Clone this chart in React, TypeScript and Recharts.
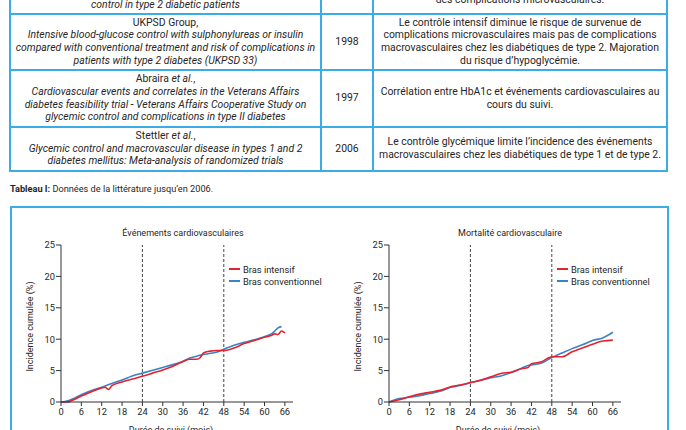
import React from 'react';
import { LineChart, Line, XAxis, YAxis, ReferenceLine, Legend } from 'recharts';

// ---------- data ----------
const monthsA = [0, 2, 3, 6, 9, 12, 13, 14, 15, 18, 21, 24, 27, 30, 33, 36, 38, 40, 41, 42, 44, 46, 48, 51, 54, 57, 60, 62, 63, 64, 65, 66];
const intensifA = [0, 0, 0.2, 0.95, 1.65, 2.25, 2.35, 2.0, 2.6, 3.2, 3.65, 4.1, 4.6, 5.1, 5.7, 6.45, 6.8, 6.8, 7.05, 7.8, 8.1, 8.2, 8.2, 8.6, 9.3, 9.8, 10.3, 10.6, 10.85, 10.75, 11.3, 11.0];
const conventionnelA = [0, 0.2, 0.4, 1.15, 1.85, 2.35, 2.55, 2.75, 2.95, 3.5, 4.15, 4.6, 5.05, 5.5, 5.95, 6.5, 7.0, 7.3, 7.45, 7.55, 7.75, 7.95, 8.4, 9.05, 9.5, 9.9, 10.4, 10.85, 11.3, 11.8, 12.0, null];

const monthsB = [0, 3, 6, 9, 12, 15, 18, 21, 24, 27, 30, 33, 36, 39, 41, 42, 45, 48, 51, 54, 57, 60, 63, 66];
const intensifB = [0, 0.35, 0.85, 1.25, 1.55, 1.85, 2.4, 2.7, 3.1, 3.45, 4.0, 4.55, 4.75, 5.3, 5.5, 6.1, 6.4, 7.2, 7.2, 8.0, 8.6, 9.2, 9.7, 9.85];
const conventionnelB = [0, 0.55, 0.75, 1.0, 1.35, 1.7, 2.3, 2.65, 3.05, 3.45, 3.85, 4.15, 4.7, 5.35, 5.8, 5.9, 6.2, 7.1, 7.8, 8.5, 9.1, 9.8, 10.2, 11.1];

const xTicks = [0, 6, 12, 18, 24, 30, 36, 42, 48, 54, 60, 66];
const yTicks = [0, 5, 10, 15, 20, 25];
const refMonths = [24, 48];
const seriesNames = ['Bras intensif', 'Bras conventionnel'];
const chartTitles = ['Événements cardiovasculaires', 'Mortalité cardiovasculaire'];
const xAxisTitle = 'Durée de suivi (mois)';
const yAxisTitle = 'Incidence cumulée (%)';

const tableAuthors = ['UKPSD Group,', 'Abraira', 'Stettler'];
const tableAuthorsEtAl = [false, true, true];
const tableTitles = [
  ['Intensive blood-glucose control with sulphonylureas or insulin', 'compared with conventional treatment and risk of complications in', 'patients with type 2 diabetes (UKPSD 33)'],
  ['Cardiovascular events and correlates in the Veterans Affairs', 'diabetes feasibility trial - Veterans Affairs Cooperative Study on', 'glycemic control and complications in type II diabetes'],
  ['Glycemic control and macrovascular disease in types 1 and 2', 'diabetes mellitus: Meta-analysis of randomized trials'],
];
const tableYears = ['1998', '1997', '2006'];
const tableConclusions = [
  ['Le contrôle intensif diminue le risque de survenue de', 'complications microvasculaires mais pas de complications', 'macrovasculaires chez les diabétiques de type 2. Majoration', 'du risque d’hypoglycémie.'],
  ['Corrélation entre HbA1c et événements cardiovasculaires au', 'cours du suivi.'],
  ['Le contrôle glycémique limite l’incidence des événements', 'macrovasculaires chez les diabétiques de type 1 et de type 2.'],
];
const prevRowTitleEnd = 'control in type 2 diabetic patients';
const prevRowConclusionEnd = 'des complications microvasculaires.';
const captionBold = 'Tableau I:';
const captionText = ' Données de la littérature jusqu’en 2006.';

// ---------- styles ----------
const FONT = 'Roboto, "DejaVu Sans", sans-serif';
const BLUE_BORDER = '#3aace6';
const TEXT = '#262626';
const RED = '#e4232f';
const BLUE = '#3a82c6';
const TABLE_FS = 10.4;
const CHART_FS = 9;

const colX = [10, 321, 373, 667];
const rowY = [14, 70, 127, 171];
const LINE_H = 12.7;

function build(months: number[], a: (number | null)[], b: (number | null)[]) {
  return months.map((m, i) => ({ m, intensif: a[i], conventionnel: b[i] }));
}

const LegendBox = (props: any) => {
  const items = (props.payload || []) as any[];
  return (
    <div style={{ fontFamily: FONT, fontSize: 9.3, color: TEXT }}>
      {items.map((it) => (
        <div key={it.value} style={{ display: 'flex', alignItems: 'center', height: 12, whiteSpace: 'nowrap' }}>
          <span style={{ display: 'inline-block', width: 11, height: 2, background: it.color, marginRight: 3 }} />
          <span>{it.value}</span>
        </div>
      ))}
    </div>
  );
};

function Chart({ left, data, title, titleX, xTitleX, yTitleX, legendX }: any) {
  const W = 330;
  const H = 240;
  const top = 220;
  return (
    <>
      <div style={{ position: 'absolute', left, top, width: W, height: H }}>
        <LineChart width={W} height={H} data={data} margin={{ top: 25, right: 37, left: 0, bottom: 38 }}>
          <XAxis
            dataKey="m"
            type="number"
            domain={[0, 68.4]}
            ticks={xTicks}
            interval={0}
            tickSize={4}
            tickMargin={2}
            height={20}
            axisLine={{ stroke: '#333', strokeWidth: 1 }}
            tickLine={{ stroke: '#333' }}
            tick={{ fontSize: 9.3, fill: TEXT, fontFamily: FONT }}
          />
          <YAxis
            type="number"
            domain={[0, 25]}
            ticks={yTicks}
            interval={0}
            width={61}
            tickSize={5}
            tickMargin={1}
            axisLine={{ stroke: '#333', strokeWidth: 1 }}
            tickLine={{ stroke: '#333' }}
            tick={{ fontSize: 9.3, fill: TEXT, fontFamily: FONT }}
          />
          {refMonths.map((r) => (
            <ReferenceLine key={r} x={r} stroke="#444" strokeDasharray="3 2" strokeWidth={1} />
          ))}
          <Line type="monotone" dataKey="conventionnel" name={seriesNames[1]} stroke={BLUE} strokeWidth={1.6} dot={false} isAnimationActive={false} />
          <Line type="monotone" dataKey="intensif" name={seriesNames[0]} stroke={RED} strokeWidth={1.6} dot={false} isAnimationActive={false} />
          <Legend
            layout="vertical"
            align="center"
            verticalAlign="middle"
            content={(p: any) => {
              const sorted = [...(p.payload || [])].sort((x: any, y: any) => seriesNames.indexOf(x.value) - seriesNames.indexOf(y.value));
              return <LegendBox payload={sorted} />;
            }}
            wrapperStyle={{ left: legendX - left, top: 43, right: 'auto', bottom: 'auto', width: 130, height: 26 }}
          />
        </LineChart>
      </div>
      <div style={{ position: 'absolute', left: titleX - 100, top: 227, width: 200, textAlign: 'center', fontSize: CHART_FS, lineHeight: '13px', color: TEXT }}>
        {title}
      </div>
      <div style={{ position: 'absolute', left: xTitleX - 100, top: 424, width: 200, textAlign: 'center', fontSize: CHART_FS, lineHeight: '13px', color: TEXT }}>
        {xAxisTitle}
      </div>
      <div
        style={{
          position: 'absolute',
          left: yTitleX - 100,
          top: 326 - 6.5,
          width: 200,
          textAlign: 'center',
          fontSize: CHART_FS,
          lineHeight: '13px',
          color: TEXT,
          transform: 'rotate(-90deg)',
          transformOrigin: '50% 50%',
        }}
      >
        {yAxisTitle}
      </div>
    </>
  );
}

function Lines({ lines, x, w, cy, italic }: any) {
  const h = lines.length * LINE_H;
  return (
    <div style={{ position: 'absolute', left: x, top: cy - h / 2, width: w, textAlign: 'center', lineHeight: LINE_H + 'px', fontSize: TABLE_FS, color: TEXT, whiteSpace: 'nowrap' }}>
      {lines.map((l: any, i: number) => (
        <div key={i} style={{ fontStyle: italic ? 'italic' : 'normal' }}>{l}</div>
      ))}
    </div>
  );
}

export default function App() {
  const dataA = build(monthsA, intensifA, conventionnelA);
  const dataB = build(monthsB, intensifB, conventionnelB);
  const c1w = colX[1] - colX[0];
  const c2w = colX[2] - colX[1];
  const c3w = colX[3] - colX[2];
  return (
    <div style={{ position: 'absolute', left: 0, top: 0, width: 686, height: 430, overflow: 'hidden', background: '#fff', fontFamily: FONT }}>
      {colX.map((x, i) => (
        <div key={'v' + i} style={{ position: 'absolute', left: x - 1, top: -20, width: 2, height: rowY[3] + 21, background: BLUE_BORDER }} />
      ))}
      {rowY.map((y, i) => (
        <div key={'h' + i} style={{ position: 'absolute', left: colX[0] - 1, top: y - 1, width: colX[3] - colX[0] + 2, height: 2, background: BLUE_BORDER }} />
      ))}
      <Lines lines={[prevRowTitleEnd]} x={colX[0]} w={c1w} cy={5} italic />
      <Lines lines={[prevRowConclusionEnd]} x={colX[2]} w={c3w} cy={0} />
      {tableYears.map((yr, i) => {
        const cy = (rowY[i] + rowY[i + 1]) / 2;
        const authorLine = tableAuthorsEtAl[i] ? (
          <span>{tableAuthors[i]} <i>et al.</i>,</span>
        ) : (
          tableAuthors[i]
        );
        const n = tableTitles[i].length + 1;
        const h = n * LINE_H;
        return (
          <React.Fragment key={yr}>
            <div style={{ position: 'absolute', left: colX[0], top: cy - h / 2, width: c1w, textAlign: 'center', lineHeight: LINE_H + 'px', fontSize: TABLE_FS, color: TEXT, whiteSpace: 'nowrap' }}>
              <div>{authorLine}</div>
              {tableTitles[i].map((l, j) => (
                <div key={j} style={{ fontStyle: 'italic' }}>{l}</div>
              ))}
            </div>
            <Lines lines={[yr]} x={colX[1]} w={c2w} cy={cy} />
            <Lines lines={tableConclusions[i]} x={colX[2]} w={c3w} cy={cy} />
          </React.Fragment>
        );
      })}
      <div style={{ position: 'absolute', left: 10, top: 183, fontSize: 9.2, lineHeight: '12px', color: TEXT, whiteSpace: 'nowrap' }}>
        <b>{captionBold}</b>
        {captionText}
      </div>
      <div style={{ position: 'absolute', left: 10, top: 206, width: 655, height: 260, border: '2px solid ' + BLUE_BORDER }} />
      <Chart left={0} data={dataA} title={chartTitles[0]} titleX={183} xTitleX={171} yTitleX={30} legendX={229} />
      <Chart left={328} data={dataB} title={chartTitles[1]} titleX={510} xTitleX={498} yTitleX={358} legendX={557} />
    </div>
  );
}
